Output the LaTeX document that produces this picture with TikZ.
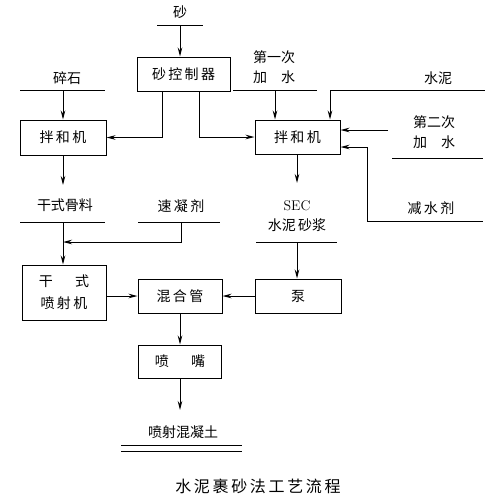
\documentclass[tikz,border=0pt]{standalone}
\usepackage{fontspec}
\newfontfamily\cjk{Noto Sans CJK SC}
\usetikzlibrary{arrows.meta}
\tikzset{
  box/.style={draw, rectangle, inner sep=0pt, align=center},
  lbl/.style={inner sep=0pt, align=center},
}
\begin{document}
\begin{tikzpicture}[x=1pt, y=-1pt, line width=1pt,
    font=\cjk\fontsize{14}{20}\selectfont,
    >={Stealth[length=9pt,width=4.5pt]}]
  \useasboundingbox (0,0) rectangle (500,504);
  % boxes
  \node[box, minimum width=93pt, minimum height=34pt] (sandctl) at (183.5,74) {砂\,控\,制\,器};
  \node[box, minimum width=86pt, minimum height=35pt] (mixA) at (63,137.5) {拌\,和\,机};
  \node[box, minimum width=85pt, minimum height=34pt] (mixB) at (297.5,137) {拌\,和\,机};
  \node[box, minimum width=84pt, minimum height=55pt] (gun) at (64,292.5) {干\hspace{1.6em}式\\[2pt]喷\,射\,机};
  \node[box, minimum width=84pt, minimum height=34pt] (pipe) at (180,296) {混\,合\,管};
  \node[box, minimum width=86pt, minimum height=34pt] (pump) at (298,296) {泵};
  \node[box, minimum width=83pt, minimum height=33pt] (nozzle) at (180,361.5) {喷\hspace{1.6em}嘴};
  % labels
  \node[lbl] (sand) at (180,12) {砂};
  \node[lbl] (stone) at (67,78) {碎石};
  \node[lbl, align=left] (water1) at (274,67) {第一次\\加\hspace{1em}水};
  \node[lbl] (cement) at (438,78) {水泥};
  \node[lbl, align=left] (water2) at (434,132) {第二次\\加\hspace{1em}水};
  \node[lbl] (reducer) at (431,208) {减\,水\,剂};
  \node[lbl] (dryagg) at (65,205) {干式骨料};
  \node[lbl] (accel) at (181,206) {速\,凝\,剂};
  \node[lbl] (sec) at (297,216) {{\rmfamily SEC}\\水泥\,砂浆};
  \node[lbl] (shot) at (183,432) {喷射混凝土};
  \node[lbl, font=\cjk\fontsize{16}{20}\selectfont] (title) at (258,486) {水\,泥\,裹\,砂\,法\,工\,艺\,流\,程};
  % input bars
  \coordinate (sandL) at (157,25);  \coordinate (sandR) at (203,25);
  \coordinate (stoneL) at (20,90);  \coordinate (stoneR) at (105,90);
  \coordinate (w1L) at (233,90);    \coordinate (w1R) at (317,90);
  \coordinate (cemL) at (330,90);   \coordinate (cemR) at (485,90);
  \coordinate (w2L) at (392,158);   \coordinate (w2R) at (483,158);
  \coordinate (redL) at (367,221);  \coordinate (redR) at (483,221);
  \coordinate (aggL) at (20,222);   \coordinate (aggR) at (105,222);
  \coordinate (accL) at (138,222);  \coordinate (accR) at (220,222);
  \coordinate (secL) at (256,242);  \coordinate (secR) at (337,242);
  \coordinate (shotL) at (121,445); \coordinate (shotR) at (242,445);
  \draw (sandL) -- (sandR);
  \draw (stoneL) -- (stoneR);
  \draw (w1L) -- (w1R);
  \draw (cemL) -- (cemR);
  \draw (w2L) -- (w2R);
  \draw (redL) -- (redR);
  \draw (aggL) -- (aggR);
  \draw (accL) -- (accR);
  \draw (secL) -- (secR);
  \draw (shotL) -- (shotR);
  \draw ([yshift=-6pt]shotL) -- ([yshift=-6pt]shotR);
  % flow
  \coordinate (sandin) at (180,25);
  \coordinate (stonein) at (63,90);
  \coordinate (w1in) at (275,90);
  \coordinate (w2in) at (388,130);
  \coordinate (aggin) at (63,222);
  \coordinate (accin) at (181,222);
  \coordinate (secin) at (297,242);
  \coordinate (aggout) at (63,185);
  \coordinate (secout) at (297,183);
  \coordinate (shotout) at (180,410);
  \begin{scope}[->]
    \draw (sandin) -- (sandin |- sandctl.north);
    \draw ([xshift=-21.5pt]sandctl.south) |- (mixA.east);
    \draw ([xshift=15.5pt]sandctl.south) |- (mixB.west);
    \draw (stonein) -- (stonein |- mixA.north);
    \draw (w1in) -- (w1in |- mixB.north);
    \draw (cemL) -- (cemL |- mixB.north);
    \draw (w2in) -- (w2in -| mixB.east);
    \draw (redL) |- ([yshift=-10pt]mixB.east);
    \draw (stonein |- mixA.south) -- (aggout);
    \draw (mixB.south -| secout) -- (secout);
    \draw (aggin) -- (aggin |- gun.north);
    \draw (accin) |- (63,242);
    \draw (pipe.west -| gun.east) -- (pipe.west);
    \draw (pump.west) -- (pipe.east);
    \draw (secin) -- (secin |- pump.north);
    \draw (pipe.south) -- (nozzle.north);
    \draw (nozzle.south) -- (shotout);
  \end{scope}
\end{tikzpicture}
\end{document}
